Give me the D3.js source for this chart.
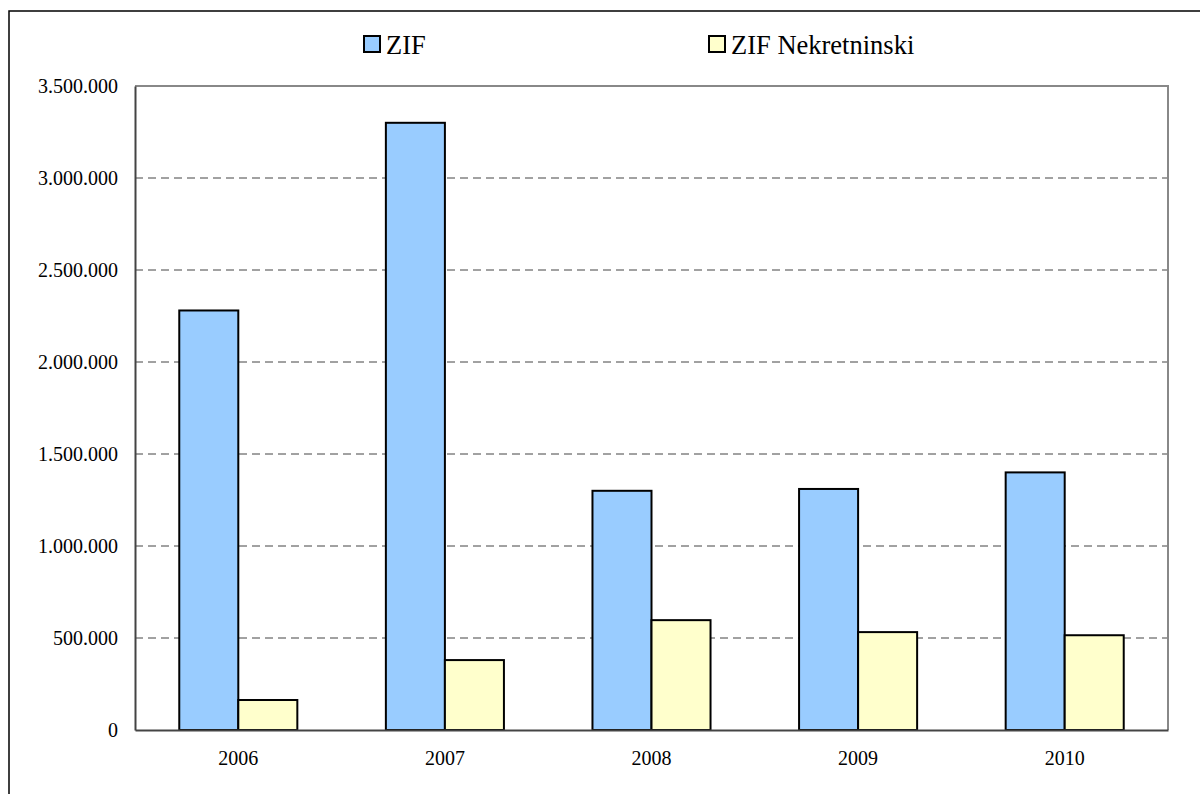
<!DOCTYPE html>
<html>
<head>
<meta charset="utf-8">
<script src="https://cdn.jsdelivr.net/npm/d3@7/dist/d3.min.js"></script>
<style>
html,body{margin:0;padding:0;background:#fff;}
svg{display:block;}
svg text{font-family:"Times New Roman","Liberation Serif",Times,serif !important;fill:#000;}
</style>
</head>
<body>
<svg id="chart" width="1200" height="794"></svg>
<script>
const categories = ["2006","2007","2008","2009","2010"];
const seriesNames = ["ZIF","ZIF Nekretninski"];
const zifValues = [2280000, 3300000, 1300000, 1310000, 1400000];
const nekValues = [163000, 380000, 597000, 532000, 515000];
const yTicks = [0, 500000, 1000000, 1500000, 2000000, 2500000, 3000000, 3500000];
const colors = ["#99CCFF", "#FFFFCC"];

(function(){
const svg = d3.select("#chart");
const pL = 135, pR = 1168, pT = 86, pB = 730;
const serif = '"Times New Roman","Liberation Serif",Times,serif';

// outer frame
svg.append("rect").attr("x",9).attr("y",11).attr("width",1300).attr("height",900)
  .attr("fill","none").attr("stroke","#000").attr("stroke-width",1.5);

const x0 = d3.scaleBand().domain(categories).range([pL,pR]).paddingInner(0).paddingOuter(0);
const y = d3.scaleLinear().domain([0,3500000]).range([pB,pT]);
const bw = x0.bandwidth()/3.5;
const x1 = d3.scaleBand().domain(seriesNames).range([0, 2*bw]);

const fmt = v => d3.format(",")(v).replace(/,/g,".");

// gridlines
svg.append("g").selectAll("line").data(yTicks.filter(d=>d>0 && d<3500000)).join("line")
  .attr("x1",pL).attr("x2",pR).attr("y1",d=>y(d)).attr("y2",d=>y(d))
  .attr("stroke","#444").attr("stroke-width",1).attr("stroke-dasharray","8,5");

// plot frame top/right
svg.append("path").attr("d",`M${pL},${pT}H${pR}V${pB}`)
  .attr("fill","none").attr("stroke","#888").attr("stroke-width",2);

// y axis
const yAxis = d3.axisLeft(y).tickValues(yTicks).tickFormat(fmt).tickSize(0).tickPadding(17);
const gy = svg.append("g").attr("transform",`translate(${pL},0)`).call(yAxis)
  .attr("font-family", serif).attr("font-size", 20);
gy.select(".domain").attr("stroke","#444").attr("stroke-width",2);
gy.selectAll("text").attr("dy","0.33em");

// bars
const series = [zifValues, nekValues];
const g = svg.append("g");
categories.forEach((c,i)=>{
  const gx0 = x0(c) + (x0.bandwidth() - 2*bw)/2;
  seriesNames.forEach((s,j)=>{
    g.append("rect")
      .attr("x", gx0 + x1(s)).attr("y", y(series[j][i]))
      .attr("width", x1.bandwidth()).attr("height", pB - y(series[j][i]))
      .attr("fill", colors[j]).attr("stroke","#000").attr("stroke-width",2);
  });
});

// x axis
const xAxis = d3.axisBottom(x0).tickSize(0).tickPadding(21);
const gxa = svg.append("g").attr("transform",`translate(0,${pB})`).call(xAxis)
  .attr("font-family", serif).attr("font-size", 20);
gxa.select(".domain").attr("stroke","#444").attr("stroke-width",2);

// legend
const legendX = [364, 709];
seriesNames.forEach((s,j)=>{
  svg.append("rect").attr("x",legendX[j]).attr("y",36).attr("width",16).attr("height",16)
    .attr("fill",colors[j]).attr("stroke","#000").attr("stroke-width",2);
  svg.append("text").attr("x",legendX[j]+22).attr("y",54).text(s)
    .attr("font-family", serif).attr("font-size", 26.5);
});
})();
</script>
</body>
</html>
